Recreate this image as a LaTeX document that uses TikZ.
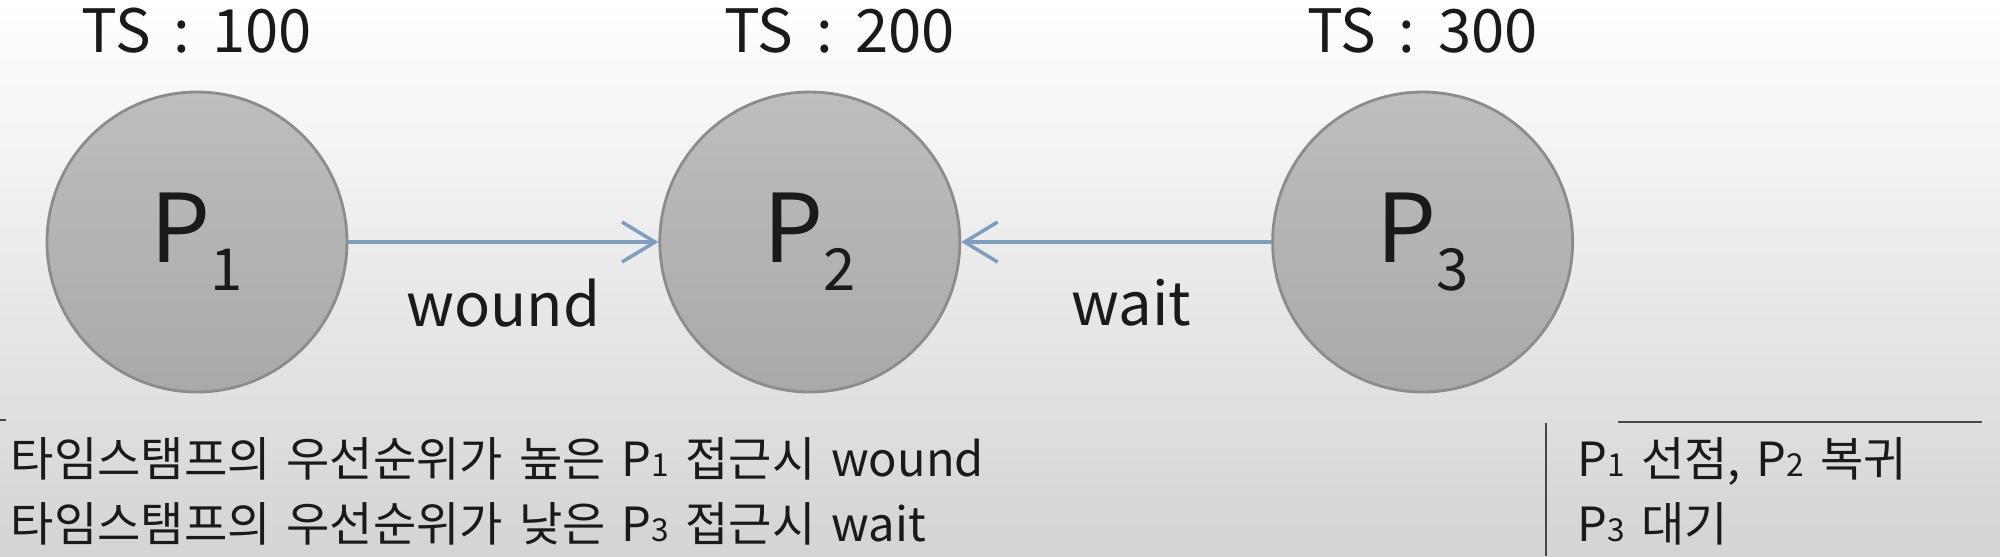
\documentclass[tikz,border=0pt]{standalone}
\usepackage{fontspec}
\setmainfont{Noto Sans CJK KR}
\usetikzlibrary{arrows.meta,positioning,calc}
\definecolor{fondbas}{HTML}{D4D4D4}
\definecolor{cercleH}{HTML}{BEBEBE}
\definecolor{cercleB}{HTML}{A9A9A9}
\definecolor{bordC}{HTML}{8C8C8C}
\definecolor{fleche}{HTML}{7F9DBD}
\definecolor{texte}{HTML}{1A1A1A}
\newcommand{\ind}[1]{{\fontsize{9}{9}\selectfont #1}}
\newcommand{\gind}[1]{\raisebox{-8pt}{\fontsize{16.5}{16.5}\selectfont #1}}
\newcommand{\espace}[1]{\spaceskip=#1em\relax}
\tikzset{
  proc/.style={circle, draw=bordC, line width=0.8pt, top color=cercleH, bottom color=cercleB,
               minimum size=3cm, inner sep=0pt, font=\fontsize{27}{27}\selectfont, text=texte},
  ts/.style={font=\fontsize{17}{17}\selectfont\espace{0.38}, inner sep=0pt, text=texte},
  lbl/.style={font=\fontsize{17}{17}\selectfont, inner sep=0pt, text=texte},
  note/.style={font=\fontsize{13.4}{18.5}\selectfont\espace{0.34}, align=left, inner sep=0pt, text=texte},
  arr/.style={-{Straight Barb[length=3.3mm, width=4mm]}, line width=1pt, draw=fleche},
  trait/.style={line width=0.7pt, draw=texte!80},
}
\begin{document}
\begin{tikzpicture}[node distance=3.1cm]
    \shade[top color=white, bottom color=fondbas] (0,0) rectangle (20,-5.56);
    \useasboundingbox (0,0) rectangle (20,-5.56);
    \node[proc] (a) at (1.97,-2.42) {P\gind{1}};
    \node[proc, right=of a] (b) {P\gind{2}};
    \node[proc, right=of b] (c) {P\gind{3}};
    \node[ts, above=3.7mm of a] (ta) {TS : 100};
    \node[ts, above=3.7mm of b, xshift=3mm] (tb) {TS : 200};
    \node[ts, above=3.7mm of c] (tc) {TS : 300};
    \draw[arr] (a) -- node[lbl, below=3.5mm] (wd) {wound} (b);
    \draw[arr] (c) -- node[lbl, below=3.5mm, xshift=1.5mm] (wt) {wait} (b);
    \node[note, anchor=west] (n1) at (0.1,-4.915) {타임스탬프의 우선순위가 높은 P\ind{1} 접근시 wound\\타임스탬프의 우선순위가 낮은 P\ind{3} 접근시 wait};
    \node[note, anchor=west] (n2) at (15.77,-4.915) {P\ind{1} 선점, P\ind{2} 복귀\\P\ind{3} 대기};
    \draw[trait] (0,-4.2) -- (0.06,-4.2);
    \draw[trait] (15.46,-4.23) -- (15.46,-5.56);
    \draw[trait] (16.18,-4.22) -- (19.82,-4.22);
  \end{tikzpicture}
\end{document}
